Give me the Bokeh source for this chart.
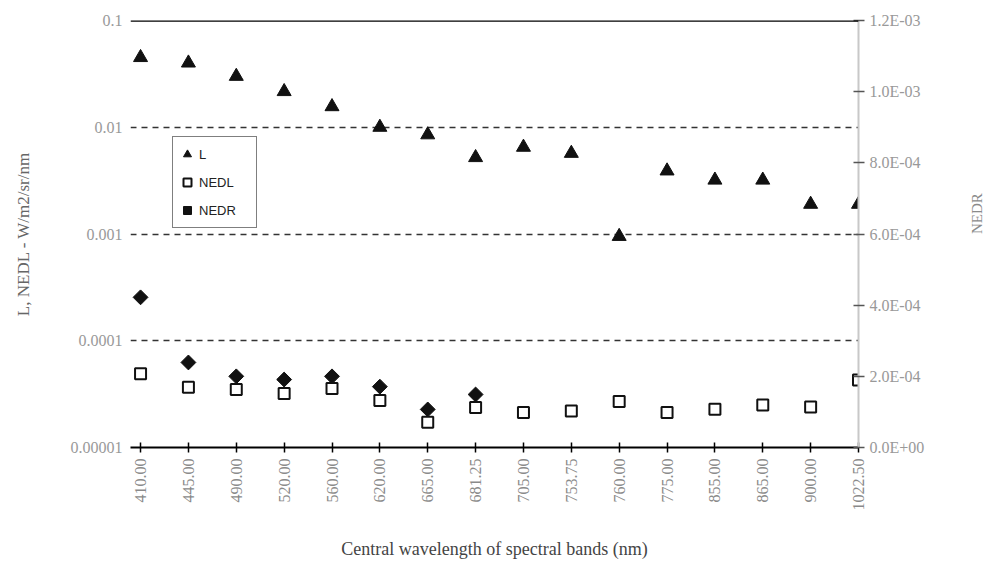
import math
from bokeh.plotting import figure
from bokeh.models import (Range1d, LinearAxis, LinearScale, FixedTicker, CustomJSTickFormatter,
                          Legend, LegendItem, Span)
from bokeh.embed import file_html
from bokeh.resources import INLINE

# ---- data ----
bands = ["410.00", "445.00", "490.00", "520.00", "560.00", "620.00", "665.00", "681.25",
         "705.00", "753.75", "760.00", "775.00", "855.00", "865.00", "900.00", "1022.50"]
L = [0.045, 0.040, 0.030, 0.0216, 0.0156, 0.0100, 0.0085, 0.0052,
     0.0065, 0.0057, 0.00095, 0.0039, 0.0032, 0.0032, 0.0019, 0.0019]
NEDL = [4.9e-5, 3.66e-5, 3.5e-5, 3.2e-5, 3.57e-5, 2.75e-5, 1.72e-5, 2.37e-5,
        2.13e-5, 2.2e-5, 2.7e-5, 2.13e-5, 2.28e-5, 2.5e-5, 2.4e-5, 4.3e-5]
nedr_bands = ["410.00", "445.00", "490.00", "520.00", "560.00", "620.00", "665.00", "681.25"]
NEDR = [4.22e-4, 2.39e-4, 2.0e-4, 1.91e-4, 2.0e-4, 1.71e-4, 1.07e-4, 1.49e-4]
left_ticks = [1e-5, 1e-4, 1e-3, 1e-2, 1e-1]
right_ticks = [0.0, 2e-4, 4e-4, 6e-4, 8e-4, 1.0e-3, 1.2e-3]

xi = list(range(len(bands)))
nedr_x = [bands.index(b) for b in nedr_bands]

SERIF = "Liberation Serif"

p = figure(frame_width=728, frame_height=427, y_axis_type="log",
           x_range=Range1d(-0.21, 15), y_range=Range1d(1e-5, 0.1),
           output_backend="svg", toolbar_location=None,
           min_border_left=130, min_border_right=127, min_border_top=20, min_border_bottom=113)
p.extra_y_ranges = {"nedr": Range1d(0, 1.2e-3)}
p.extra_y_scales = {"nedr": LinearScale()}
p.outline_line_color = None
p.background_fill_color = "white"

# grid
p.xgrid.grid_line_color = None
p.ygrid.grid_line_color = "#333333"
p.ygrid.grid_line_dash = "6 5"
p.ygrid.grid_line_width = 1.5

# solid top line at the upper limit of the left axis
p.add_layout(Span(location=left_ticks[-1], dimension="width", line_color="black", line_width=2.5))

# bottom x axis
xa = p.xaxis[0]
xa.ticker = FixedTicker(ticks=xi)
xa.major_label_overrides = {i: b for i, b in enumerate(bands)}
xa.major_label_orientation = math.pi / 2
xa.major_label_text_font = SERIF
xa.major_label_text_font_size = "16px"
xa.major_label_text_color = "#8a8a8a"
xa.major_label_standoff = 6
xa.axis_line_color = "black"
xa.axis_line_width = 2
xa.major_tick_line_color = "black"
xa.major_tick_line_width = 1.5
xa.major_tick_in = 5
xa.major_tick_out = 5
xa.minor_tick_line_color = None
xa.axis_label = "Central wavelength of spectral bands (nm)"
xa.axis_label_text_font = SERIF
xa.axis_label_text_font_size = "18px"
xa.axis_label_text_font_style = "normal"
xa.axis_label_text_color = "#444444"
xa.axis_label_standoff = 25

# left log axis
ya = p.yaxis[0]
ya.ticker = FixedTicker(ticks=left_ticks)
ya.formatter = CustomJSTickFormatter(code="""
    const d = Math.max(0, -Math.round(Math.log10(tick)));
    return tick.toFixed(d);
""")
ya.axis_line_color = None
ya.major_tick_in = 0
ya.major_tick_out = 0
ya.minor_tick_line_color = None
ya.major_label_standoff = 8
ya.major_label_text_font = SERIF
ya.major_label_text_font_size = "16px"
ya.major_label_text_color = "#999999"
ya.axis_label = "L, NEDL - W/m2/sr/nm"
ya.axis_label_text_font = SERIF
ya.axis_label_text_font_size = "17px"
ya.axis_label_text_font_style = "normal"
ya.axis_label_text_color = "#666666"
ya.axis_label_standoff = 35

# right linear axis
ra = LinearAxis(y_range_name="nedr", ticker=FixedTicker(ticks=right_ticks))
ra.formatter = CustomJSTickFormatter(code="""
    const s = tick.toExponential(1).split('e');
    const e = parseInt(s[1]);
    const a = Math.abs(e);
    return s[0] + 'E' + (e < 0 ? '-' : '+') + (a < 10 ? '0' : '') + a;
""")
ra.axis_line_color = "#c8c8c8"
ra.axis_line_width = 2
ra.major_tick_line_color = "#555555"
ra.major_tick_line_width = 1.5
ra.major_tick_in = 5
ra.major_tick_out = 6
ra.minor_tick_line_color = None
ra.major_label_standoff = 5
ra.major_label_text_font = SERIF
ra.major_label_text_font_size = "16px"
ra.major_label_text_color = "#999999"
ra.axis_label = "NEDR"
ra.axis_label_text_font = SERIF
ra.axis_label_text_font_size = "15px"
ra.axis_label_text_font_style = "normal"
ra.axis_label_text_color = "#8a8a8a"
ra.axis_label_standoff = 50
try:
    ra.axis_label_orientation = math.pi / 2
except Exception:
    pass
p.add_layout(ra, "right")

# glyphs
r_L = p.scatter(xi, L, marker="triangle", size=14, color="#111111")
r_nedr = p.scatter(nedr_x, NEDR, y_range_name="nedr", marker="square", angle=math.pi / 4,
                   size=10.5, color="#111111")
r_nedl = p.scatter(xi, NEDL, marker="square", size=11, fill_color="white",
                   line_color="#111111", line_width=2)

legend = Legend(items=[LegendItem(label="L", renderers=[r_L]),
                       LegendItem(label="NEDL", renderers=[r_nedl]),
                       LegendItem(label="NEDR", renderers=[r_nedr])],
                location=(42, 219), padding=4, spacing=2, margin=0,
                glyph_width=20, glyph_height=26, label_height=26, label_width=53,
                label_standoff=2, border_line_color="black", border_line_width=1.5,
                background_fill_color="white", background_fill_alpha=1.0,
                label_text_font="Liberation Sans", label_text_font_size="13px",
                label_text_color="#222222")
p.add_layout(legend)

open("out.html", "w").write(file_html(p, INLINE))
